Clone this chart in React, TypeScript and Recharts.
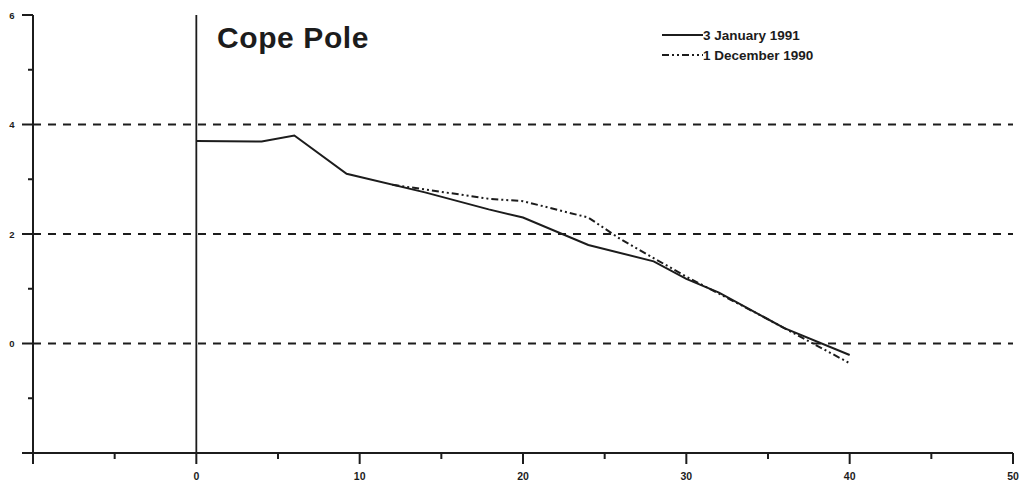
import React from "react";
import { LineChart, Line, XAxis, YAxis, ReferenceLine } from "recharts";

// Depth along the pole and measured values for each survey date
const jan1991Depth = [0, 4, 6, 9.2, 14, 17.9, 20, 24, 28, 30, 32, 36, 40];
const jan1991Value = [3.7, 3.69, 3.8, 3.1, 2.76, 2.45, 2.3, 1.8, 1.5, 1.18, 0.93, 0.28, -0.21];

const dec1990Depth = [12, 18, 20, 24, 26, 30, 34, 37, 40];
const dec1990Value = [2.9, 2.64, 2.6, 2.3, 1.9, 1.22, 0.6, 0.12, -0.36];

const xTicks = [-10, -5, 0, 5, 10, 15, 20, 25, 30, 35, 40, 45, 50];
const yTicks = [-2, -1, 0, 1, 2, 3, 4, 5, 6];
const gridValues = [4, 2, 0];

const seriesNames = ["3 January 1991", "1 December 1990"];
const title = "Cope Pole";

const jan1991 = jan1991Depth.map((x, i) => ({ x, v: jan1991Value[i] }));
const dec1990 = dec1990Depth.map((x, i) => ({ x, v: dec1990Value[i] }));

const INK = "#1c1c1c";
const FONT = "'Liberation Sans', Arial, sans-serif";
const DASH_DOT_DOT = "7 3 2 3 2 3";

const XTick = (props: any) => {
  const { x, y, payload } = props;
  const val = payload.value as number;
  const major = val % 10 === 0;
  return (
    <g>
      <line x1={x} x2={x} y1={y} y2={y + (major ? 11 : 6)} stroke={INK} strokeWidth={2} />
      {major && val !== -10 && (
        <text x={x} y={y + 27} textAnchor="middle" fontSize={10.5} fontWeight="bold" fontFamily={FONT} fill={INK}>
          {val}
        </text>
      )}
    </g>
  );
};

const YTick = (props: any) => {
  const { x, y, payload } = props;
  const val = payload.value as number;
  const major = val % 2 === 0;
  return (
    <g>
      <line x1={x - (major ? 11 : 5)} x2={x} y1={y} y2={y} stroke={INK} strokeWidth={2} />
      {major && val !== -2 && (
        <text x={x - 21} y={y + 3.5} textAnchor="middle" fontSize={9.5} fontWeight="bold" fontFamily={FONT} fill={INK}>
          {val}
        </text>
      )}
    </g>
  );
};

export default function App() {
  return (
    <div style={{ position: "absolute", left: 0, top: 0, width: 1020, height: 490, background: "#fff" }}>
      <LineChart width={1020} height={490} data={jan1991} margin={{ top: 15, right: 7, bottom: 0, left: 0 }}>
        <XAxis
          type="number"
          dataKey="x"
          domain={[-10, 50]}
          ticks={xTicks}
          interval={0}
          height={37}
          tickSize={0}
          tickMargin={0}
          tickLine={false}
          axisLine={{ stroke: INK, strokeWidth: 2 }}
          tick={<XTick />}
          allowDataOverflow
        />
        <YAxis
          type="number"
          domain={[-2, 6]}
          ticks={yTicks}
          interval={0}
          width={33}
          tickSize={0}
          tickMargin={0}
          tickLine={false}
          axisLine={{ stroke: INK, strokeWidth: 2 }}
          tick={<YTick />}
          allowDataOverflow
        />
        {gridValues.map((g) => (
          <ReferenceLine key={g} y={g} stroke={INK} strokeWidth={1.8} strokeDasharray="8 7" />
        ))}
        <ReferenceLine x={0} stroke={INK} strokeWidth={1.8} />
        <Line
          data={dec1990}
          dataKey="v"
          type="linear"
          stroke={INK}
          strokeWidth={2}
          strokeDasharray={DASH_DOT_DOT}
          dot={false}
          activeDot={false}
          isAnimationActive={false}
        />
        <Line
          data={jan1991}
          dataKey="v"
          type="linear"
          stroke={INK}
          strokeWidth={2}
          dot={false}
          activeDot={false}
          isAnimationActive={false}
        />
      </LineChart>
      <svg width={1020} height={490} style={{ position: "absolute", left: 0, top: 0, pointerEvents: "none" }}>
        <text x={217} y={48} fontSize={30} fontWeight="bold" fontFamily={FONT} fill={INK} letterSpacing={0.6}>
          {title}
        </text>
        <line x1={662} x2={703} y1={35} y2={35} stroke={INK} strokeWidth={2} />
        <text x={703} y={40} fontSize={13.5} fontWeight="bold" fontFamily={FONT} fill={INK}>
          {seriesNames[0]}
        </text>
        <line x1={662} x2={703} y1={55} y2={55} stroke={INK} strokeWidth={2} strokeDasharray={DASH_DOT_DOT} />
        <text x={703} y={60} fontSize={13.5} fontWeight="bold" fontFamily={FONT} fill={INK}>
          {seriesNames[1]}
        </text>
      </svg>
    </div>
  );
}
